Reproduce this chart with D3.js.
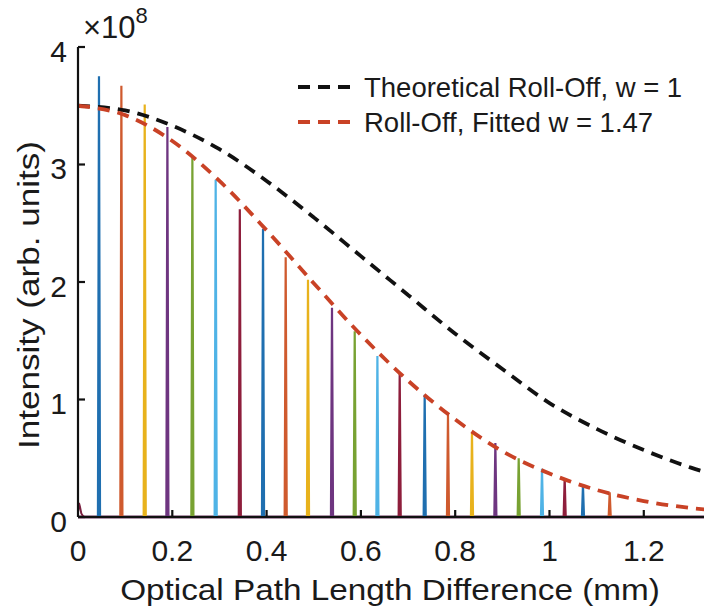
<!DOCTYPE html>
<html>
<head>
<meta charset="utf-8">
<script src="https://cdn.jsdelivr.net/npm/d3@7"></script>
<style>
  body { margin: 0; background: #fff; }
  svg { display: block; font-family: "Liberation Sans", Arial, sans-serif; }
  .tick-label { font-size: 30px; fill: #1a1a1a; }
  .axis-title { font-size: 30px; fill: #1a1a1a; }
  .legend-text { font-size: 27.5px; fill: #1a1a1a; }
</style>
</head>
<body>
<svg id="chart" width="704" height="615"></svg>
<script>
// peak positions (mm) and peak heights (x1e8)
const peakPositions = [0.0445, 0.092, 0.1415, 0.1896, 0.2426, 0.292, 0.3432, 0.3924, 0.4405, 0.4878,
  0.5387, 0.5869, 0.635, 0.6823, 0.7353, 0.7847, 0.8356, 0.8852, 0.9347, 0.9841, 1.0322, 1.071, 1.1277]
const peakHeights = [3.75, 3.67, 3.51, 3.32, 3.07, 2.87, 2.62, 2.45, 2.21, 2.02,
  1.78, 1.58, 1.37, 1.23, 1.04, 0.87, 0.72, 0.63, 0.50, 0.41, 0.33, 0.27, 0.21]

// small DC bump at zero path difference
const dcX = [0, 0.002, 0.004, 0.007, 0.012]
const dcY = [0.04, 0.12, 0.09, 0.03, 0]

// roll-off curves
const curveX = [0, 0.1, 0.2, 0.3, 0.4, 0.5, 0.6, 0.7, 0.8, 0.9, 1.0, 1.1, 1.2, 1.3, 1.35]
const theoreticalY = [3.5, 3.46, 3.33, 3.13, 2.86, 2.55, 2.22, 1.89, 1.56, 1.26, 0.97, 0.75, 0.57, 0.42, 0.36]
const fittedY = [3.5, 3.42, 3.2, 2.86, 2.44, 1.99, 1.55, 1.16, 0.83, 0.56, 0.37, 0.23, 0.136, 0.076, 0.057]

const xTicks = [0, 0.2, 0.4, 0.6, 0.8, 1, 1.2]
const yTicks = [0, 1, 2, 3, 4]
const legendLabels = ["Theoretical Roll-Off, w = 1", "Roll-Off, Fitted w = 1.47"]

// matlab default color order (a bit muted, like the scan)
const lineColors = ["#1f6fb0", "#cf5a2e", "#e8b21c", "#6e3580", "#78a232", "#4fb3e6", "#8e1e3c"]

const X0 = 78, X1 = 704, Y0 = 517, Y1 = 47
const x = d3.scaleLinear().domain([0, 1.3277]).range([X0, X1])
const y = d3.scaleLinear().domain([0, 4]).range([Y0, Y1])

const svg = d3.select("#chart")
svg.append("defs").append("clipPath").attr("id", "plot-clip")
  .append("rect").attr("x", X0).attr("y", 0).attr("width", X1 - X0).attr("height", Y0 + 4)

const plot = svg.append("g").attr("clip-path", "url(#plot-clip)")
const line = d3.line().x((d) => x(d[0])).y((d) => y(d[1]))

// axes (drawn first, series sit on top like in matlab)
svg.append("line").attr("x1", X0).attr("x2", X0).attr("y1", Y1).attr("y2", Y0)
  .attr("stroke", "#111").attr("stroke-width", 2.2)
svg.append("line").attr("x1", X0).attr("x2", X1).attr("y1", Y0).attr("y2", Y0)
  .attr("stroke", "#111").attr("stroke-width", 2.2)

// baseline of the spectra
plot.append("path").attr("d", line([[0, 0], [1.3277, 0]]))
  .attr("stroke", "#5e2a52").attr("stroke-width", 3).attr("fill", "none")

plot.append("path").attr("d", line(dcX.map((v, i) => [v, dcY[i]])))
  .attr("stroke", "#7a2040").attr("stroke-width", 2).attr("fill", "none")

// spectral peaks
const HW = 0.0022
peakPositions.forEach((p, i) => {
  const h = peakHeights[i]
  plot.append("path")
    .attr("d", line([[p - HW, 0], [p, h], [p + HW, 0]]))
    .attr("stroke", lineColors[i % lineColors.length])
    .attr("stroke-width", 2.2).attr("fill", "none")
})

// inward ticks
xTicks.forEach((t) => {
  if (t === 0) return
  svg.append("line").attr("x1", x(t)).attr("x2", x(t)).attr("y1", Y0).attr("y2", Y0 - 7)
    .attr("stroke", "#111").attr("stroke-width", 2.2)
})
yTicks.forEach((t) => {
  svg.append("line").attr("x1", X0).attr("x2", X0 + 7).attr("y1", y(t)).attr("y2", y(t))
    .attr("stroke", "#111").attr("stroke-width", 2.2)
})

// roll-off curves
const curveLine = d3.line().x((d) => x(d[0])).y((d) => y(d[1])).curve(d3.curveMonotoneX)
plot.append("path").attr("d", curveLine(curveX.map((v, i) => [v, theoreticalY[i]])))
  .attr("stroke", "#111").attr("stroke-width", 3.8).attr("fill", "none")
  .attr("stroke-dasharray", "12,8")
plot.append("path").attr("d", curveLine(curveX.map((v, i) => [v, fittedY[i]])))
  .attr("stroke", "#c94226").attr("stroke-width", 3.8).attr("fill", "none")
  .attr("stroke-dasharray", "12,8")

// tick labels
svg.selectAll(".xtl").data(xTicks).enter().append("text")
  .attr("class", "tick-label").attr("x", (d) => x(d)).attr("y", 560.5)
  .attr("text-anchor", "middle").text((d) => d)
svg.selectAll(".ytl").data(yTicks).enter().append("text")
  .attr("class", "tick-label").attr("x", 67).attr("y", (d) => y(d) + 14.5)
  .attr("text-anchor", "end").text((d) => d)

// exponent
const ex = svg.append("text").attr("x", 83).attr("y", 38).attr("fill", "#1a1a1a")
ex.append("tspan").attr("font-size", 31).text("×10")
ex.append("tspan").attr("font-size", 22).attr("dy", -15).text("8")

// axis titles (source font is wider than Arial, so stretch along the text)
svg.append("text").attr("class", "axis-title")
  .attr("transform", `translate(${(X0 + X1) / 2 - 1},600) scale(1.11,1)`)
  .attr("text-anchor", "middle").text("Optical Path Length Difference (mm)")
svg.append("text").attr("class", "axis-title")
  .attr("transform", `translate(39,295) rotate(-90) scale(1.17,1)`)
  .attr("text-anchor", "middle").text("Intensity (arb. units)")

// legend
const legendColors = ["#111", "#c94226"]
legendLabels.forEach((lab, i) => {
  const ly = 87 + i * 35
  svg.append("line").attr("x1", 298).attr("x2", 356).attr("y1", ly).attr("y2", ly)
    .attr("stroke", legendColors[i]).attr("stroke-width", 3.8).attr("stroke-dasharray", "12,8")
  svg.append("text").attr("class", "legend-text").attr("x", 364).attr("y", ly + 10)
    .text(lab)
})
</script>
</body>
</html>
